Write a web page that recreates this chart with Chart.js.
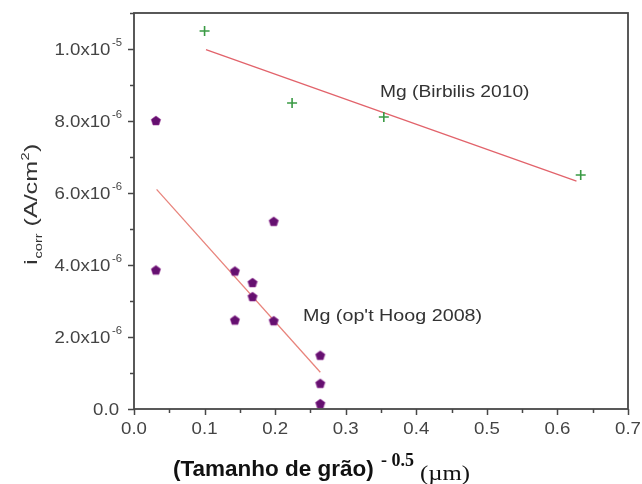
<!DOCTYPE html>
<html>
<head>
<meta charset="utf-8">
<title>i_corr vs grain size</title>
<script src="https://cdn.jsdelivr.net/npm/chart.js@4.4.1/dist/chart.umd.min.js"></script>
<style>
  html, body { margin: 0; padding: 0; background: #ffffff; }
  #wrap { width: 642px; height: 484px; position: relative; }
</style>
</head>
<body>
<div id="wrap"><canvas id="chart" width="642" height="484"></canvas></div>
<script>
// Grain size^-0.5 (µm^-0.5) and corrosion current density (A/cm²)
const birbilisX = [0.100, 0.224, 0.354, 0.633];
const birbilisY = [1.05e-5, 8.50e-6, 8.11e-6, 6.50e-6];

const hoogX = [0.031, 0.031, 0.143, 0.143, 0.168, 0.168, 0.198, 0.198, 0.264, 0.264, 0.264];
const hoogY = [8.00e-6, 3.85e-6, 3.82e-6, 2.46e-6, 3.50e-6, 3.11e-6, 5.20e-6, 2.44e-6, 1.48e-6, 0.70e-6, 0.14e-6];

// Linear fits drawn across each data set
const birbilisFitX = [0.102, 0.627];
const birbilisFitY = [9.98e-6, 6.33e-6];
const hoogFitX = [0.032, 0.264];
const hoogFitY = [6.10e-6, 1.02e-6];

// Axis ticks and labels
const xTickValues = [0, 0.1, 0.2, 0.3, 0.4, 0.5, 0.6, 0.7];
const xTickLabels = ['0.0', '0.1', '0.2', '0.3', '0.4', '0.5', '0.6', '0.7'];
const yTickValues = [0, 2e-6, 4e-6, 6e-6, 8e-6, 1e-5];
const yTickMantissas = ['0.0', '2.0x10', '4.0x10', '6.0x10', '8.0x10', '1.0x10'];
const yTickExponents = ['', '-6', '-6', '-6', '-6', '-5'];

const seriesLabels = ['Mg (Birbilis 2010)', "Mg (op't Hoog 2008)"];

const pts = (xs, ys) => xs.map((x, i) => ({ x: x, y: ys[i] }));

// Filled pentagon marker
function pentagon(r, fill) {
  const c = document.createElement('canvas');
  const s = Math.ceil(r * 2 + 4);
  c.width = s; c.height = s;
  const g = c.getContext('2d');
  g.translate(s / 2, s / 2);
  g.beginPath();
  for (let k = 0; k < 5; k++) {
    const a = -Math.PI / 2 + k * 2 * Math.PI / 5;
    const px = r * Math.cos(a), py = r * Math.sin(a);
    if (k === 0) g.moveTo(px, py); else g.lineTo(px, py);
  }
  g.closePath();
  g.fillStyle = fill;
  g.fill();
  g.strokeStyle = 'rgba(150,50,150,0.55)';
  g.lineWidth = 1;
  g.stroke();
  return c;
}

// Text drawn with a horizontal stretch factor
function textW(ctx, text, font, sx) {
  ctx.font = font;
  return ctx.measureText(text).width * sx;
}
function drawText(ctx, text, x, y, font, sx, color) {
  ctx.save();
  ctx.font = font;
  ctx.fillStyle = color;
  ctx.textAlign = 'left';
  ctx.textBaseline = 'alphabetic';
  ctx.translate(x, y);
  ctx.scale(sx, 1);
  ctx.fillText(text, 0, 0);
  ctx.restore();
}

const SANS = '"Liberation Sans", Arial, Helvetica, sans-serif';
const SERIF = '"Liberation Serif", "Times New Roman", serif';
const TICK_FONT = '16.5px ' + SANS;
const TICK_SUP_FONT = '10px ' + SANS;
const STRETCH = 1.13;
const TICK_COLOR = '#444444';

const framePlugin = {
  id: 'frameAndLabels',
  afterDraw(chart) {
    const ctx = chart.ctx;
    const area = chart.chartArea;
    const xs = chart.scales.x, ys = chart.scales.y;

    // plot frame
    ctx.save();
    ctx.strokeStyle = '#474747';
    ctx.lineWidth = 1.8;
    ctx.strokeRect(area.left, area.top, area.right - area.left, area.bottom - area.top);

    // ticks (outward), major and minor
    ctx.lineWidth = 1.5;
    ctx.strokeStyle = '#474747';
    for (let v = 0; v <= 0.7001; v += 0.05) {
      const px = Math.round(xs.getPixelForValue(v)) + 0.5;
      const major = Math.abs(v * 10 - Math.round(v * 10)) < 1e-6;
      ctx.beginPath();
      ctx.moveTo(px, area.bottom);
      ctx.lineTo(px, area.bottom + (major ? 6 : 4));
      ctx.stroke();
    }
    for (let k = 0; k <= 11; k++) {
      const v = k * 1e-6;
      const py = Math.round(ys.getPixelForValue(v)) + 0.5;
      const major = k % 2 === 0;
      ctx.beginPath();
      ctx.moveTo(area.left, py);
      ctx.lineTo(area.left - (major ? 6 : 4), py);
      ctx.stroke();
    }
    ctx.restore();

    // x tick labels
    xTickValues.forEach((v, i) => {
      const w = textW(ctx, xTickLabels[i], TICK_FONT, STRETCH);
      drawText(ctx, xTickLabels[i], xs.getPixelForValue(v) - w / 2, 434, TICK_FONT, STRETCH, TICK_COLOR);
    });

    // y tick labels with exponent superscripts
    yTickValues.forEach((v, i) => {
      const py = ys.getPixelForValue(v);
      const m = yTickMantissas[i], e = yTickExponents[i];
      const wm = textW(ctx, m, TICK_FONT, STRETCH);
      if (e) {
        const we = textW(ctx, e, TICK_SUP_FONT, STRETCH);
        const right = 122;
        const x0 = right - we - 1.5 - wm;
        drawText(ctx, m, x0, py + 6, TICK_FONT, STRETCH, TICK_COLOR);
        drawText(ctx, e, x0 + wm + 1.5, py - 3, TICK_SUP_FONT, STRETCH, TICK_COLOR);
      } else {
        drawText(ctx, m, 119 - wm, py + 6, TICK_FONT, STRETCH, TICK_COLOR);
      }
    });

    // series annotations
    const annFont = '17px ' + SANS;
    drawText(ctx, seriesLabels[0], 380, 97, annFont, STRETCH, '#333333');
    drawText(ctx, seriesLabels[1], 303, 321, annFont, 1.16, '#333333');

    // y axis title: i_corr (A/cm²), rotated
    ctx.save();
    ctx.translate(37, 265);
    ctx.rotate(-Math.PI / 2);
    const yf = '19px ' + SANS, ys1 = '11px ' + SANS;
    const ysx = 1.32;
    let cx = 0;
    drawText(ctx, 'i', cx, 0, yf, ysx, '#333333'); cx += textW(ctx, 'i', yf, ysx) + 1;
    drawText(ctx, 'corr', cx, 5, ys1, ysx, '#333333'); cx += textW(ctx, 'corr', ys1, ysx);
    cx += textW(ctx, ' ', yf, ysx);
    drawText(ctx, '(A/cm', cx, 0, yf, ysx, '#333333'); cx += textW(ctx, '(A/cm', yf, ysx) + 0.5;
    drawText(ctx, '2', cx, -8, ys1, ysx, '#333333'); cx += textW(ctx, '2', ys1, ysx) + 0.5;
    drawText(ctx, ')', cx, 0, yf, ysx, '#333333');
    ctx.restore();

    // x axis title
    const tf = 'bold 22.5px ' + SANS;
    drawText(ctx, '(Tamanho de grão)', 173, 476, tf, 1.0, '#111111');
    drawText(ctx, '- 0.5', 381, 466, 'bold 18px ' + SERIF, 1.0, '#111111');
    const uf = '20px ' + SERIF;
    const uw = textW(ctx, '(\u00b5m)', uf, 1);
    drawText(ctx, '(\u00b5m)', 420, 480, uf, 50 / uw, '#111111');
  }
};

new Chart(document.getElementById('chart'), {
  type: 'scatter',
  data: {
    datasets: [
      {
        label: seriesLabels[0] + ' fit',
        data: pts(birbilisFitX, birbilisFitY),
        showLine: true,
        borderColor: '#e2636b',
        borderWidth: 1.3,
        pointRadius: 0,
        order: 3
      },
      {
        label: seriesLabels[1] + ' fit',
        data: pts(hoogFitX, hoogFitY),
        showLine: true,
        borderColor: '#e8847c',
        borderWidth: 1.3,
        pointRadius: 0,
        order: 3
      },
      {
        label: seriesLabels[0],
        data: pts(birbilisX, birbilisY),
        pointStyle: 'cross',
        pointRadius: 5,
        pointBorderWidth: 1.6,
        borderColor: '#3a9a44',
        backgroundColor: '#3a9a44',
        order: 1
      },
      {
        label: seriesLabels[1],
        data: pts(hoogX, hoogY),
        pointStyle: pentagon(5, '#651070'),
        pointRadius: 5,
        order: 1
      }
    ]
  },
  options: {
    responsive: false,
    devicePixelRatio: 1,
    animation: false,
    events: [],
    layout: { padding: { left: 134, top: 13, right: 14, bottom: 75 } },
    plugins: { legend: { display: false }, tooltip: { enabled: false } },
    scales: {
      x: { type: 'linear', min: 0, max: 0.7, display: false },
      y: { type: 'linear', min: 0, max: 1.1e-5, display: false }
    }
  },
  plugins: [framePlugin]
});
</script>
</body>
</html>
